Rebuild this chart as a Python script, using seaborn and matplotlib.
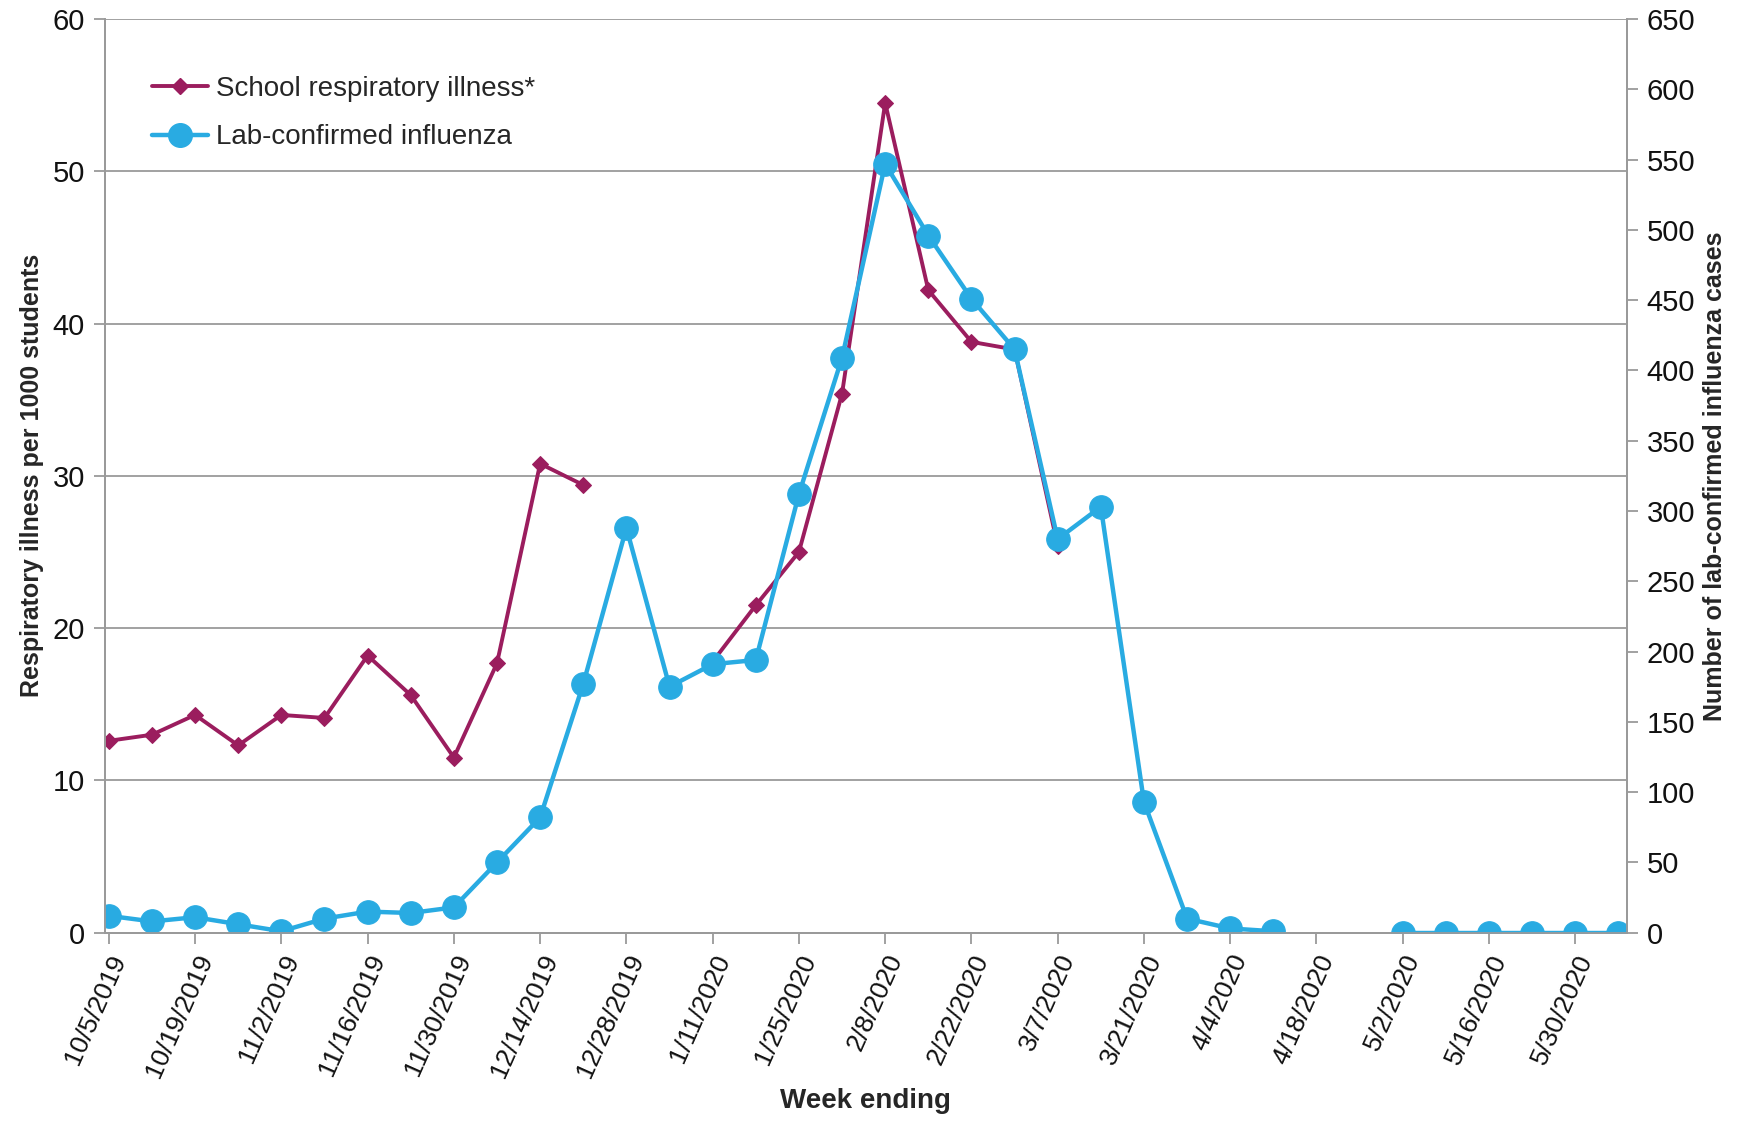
import numpy as np
import pandas as pd
import matplotlib
matplotlib.use("Agg")
import matplotlib.pyplot as plt
from matplotlib.lines import Line2D
import seaborn as sns

# week ending dates (one per week)
weeks = ["10/5/2019", "10/12/2019", "10/19/2019", "10/26/2019", "11/2/2019", "11/9/2019",
         "11/16/2019", "11/23/2019", "11/30/2019", "12/7/2019", "12/14/2019", "12/21/2019",
         "12/28/2019", "1/4/2020", "1/11/2020", "1/18/2020", "1/25/2020", "2/1/2020",
         "2/8/2020", "2/15/2020", "2/22/2020", "2/29/2020", "3/7/2020", "3/14/2020",
         "3/21/2020", "3/28/2020", "4/4/2020", "4/11/2020", "4/18/2020", "4/25/2020",
         "5/2/2020", "5/9/2020", "5/16/2020", "5/23/2020", "5/30/2020", "6/6/2020"]

nan = np.nan
school_ill = [12.6, 13.0, 14.3, 12.3, 14.3, 14.1, 18.2, 15.6, 11.5, 17.7, 30.8, 29.4,
              nan, nan, 17.8, 21.5, 25.0, 35.4, 54.5, 42.2, 38.8, 38.3, 25.4, nan,
              nan, nan, nan, nan, nan, nan, nan, nan, nan, nan, nan, nan]
flu_cases = [12, 8, 11, 6, 1, 10, 15, 14, 18, 50, 82, 177,
             288, 175, 191, 194, 312, 409, 547, 496, 451, 415, 280, 303,
             93, 10, 3, 1, nan, nan, 0, 0, 0, 0, 0, 0]

left_ticks = [0, 10, 20, 30, 40, 50, 60]
right_ticks = list(range(0, 651, 50))

MAGENTA = "#9B1D5E"
BLUE = "#29ABE2"
GRID = "#9A9A9A"


def segments(values):
    # id for each contiguous run of non-missing values
    seg, out, prev = 0, [], True
    for v in values:
        if np.isnan(v):
            out.append(np.nan)
            prev = True
        else:
            if prev:
                seg += 1
            out.append(seg)
            prev = False
    return out


df = pd.DataFrame({
    "pos": np.arange(len(weeks)),
    "week": weeks,
    "school": school_ill,
    "flu": flu_cases,
})
df["school_seg"] = segments(school_ill)
df["flu_seg"] = segments(flu_cases)

sns.set_theme(style="white")
plt.rcParams["font.family"] = ["Liberation Sans", "DejaVu Sans"]

fig, ax = plt.subplots(figsize=(17.42, 11.21), dpi=100)
fig.subplots_adjust(left=0.06, right=0.934, top=0.983, bottom=0.168)
ax2 = ax.twinx()

s = df.dropna(subset=["school"])
sns.lineplot(data=s, x="pos", y="school", units="school_seg", estimator=None,
             color=MAGENTA, linewidth=2.8, marker="D", markersize=8,
             markeredgecolor=MAGENTA, ax=ax, legend=False, sort=False)

f = df.dropna(subset=["flu"])
sns.lineplot(data=f, x="pos", y="flu", units="flu_seg", estimator=None,
             color=BLUE, linewidth=3.2, marker="o", markersize=17,
             markeredgecolor=BLUE, ax=ax2, legend=False, sort=False)

ax.set_ylim(0, 60)
ax2.set_ylim(0, 650)
ax.set_xlim(-0.1, 35.2)
ax.set_yticks(left_ticks)
ax2.set_yticks(right_ticks)
ax.set_xticks(df["pos"][::2])
ax.set_xticklabels(df["week"][::2], rotation=66, ha="right", rotation_mode="anchor")

ax.yaxis.grid(True, color=GRID, linewidth=1.3)
ax.xaxis.grid(False)
ax2.grid(False)

for a in (ax, ax2):
    a.spines["top"].set_visible(False)
    for side in ("left", "right", "bottom"):
        a.spines[side].set_color(GRID)
        a.spines[side].set_linewidth(1.3)
    a.tick_params(colors=GRID, length=8, width=1.3, labelcolor="#111111", labelsize=21)
ax.tick_params(axis="x", bottom=True, pad=5, labelsize=19)
ax.tick_params(axis="y", left=True, pad=6)
ax2.tick_params(axis="y", right=True, pad=6)

ax.set_xlabel("")
fig.text(0.497, 0.006, "Week ending", fontsize=20, fontweight="bold",
         ha="center", va="bottom")
ax.set_ylabel("Respiratory illness per 1000 students", fontsize=18, fontweight="bold", labelpad=6)
ax2.set_ylabel("Number of lab-confirmed influenza cases", fontsize=18, fontweight="bold", labelpad=6)

handles = [
    Line2D([], [], color=MAGENTA, linewidth=2.8, marker="D", markersize=8),
    Line2D([], [], color=BLUE, linewidth=3.2, marker="o", markersize=17),
]
ax2.legend(handles, ["School respiratory illness*", "Lab-confirmed influenza"],
           loc="upper left", bbox_to_anchor=(0.015, 0.965), frameon=False,
           fontsize=20, handlelength=2.0, handletextpad=0.3, labelspacing=0.8)

fig.savefig("out.png", dpi=100)
